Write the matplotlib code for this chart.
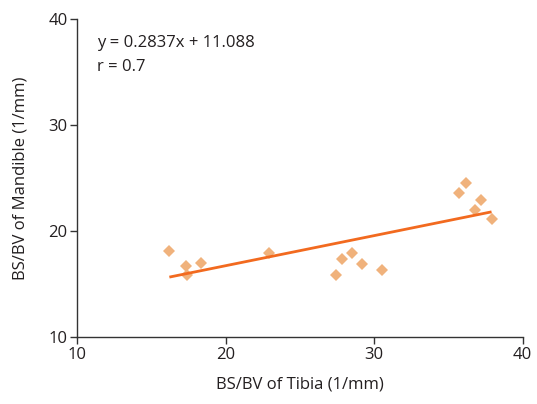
import matplotlib
matplotlib.use("Agg")
import matplotlib.pyplot as plt
import numpy as np

plt.rcParams['font.family'] = ['Open Sans', 'DejaVu Sans']

tibia = [16.2, 17.3, 17.4, 18.3, 22.9, 27.4, 27.8, 28.5, 29.2, 30.5,
         36.2, 35.7, 37.2, 36.8, 37.9]
mandible = [18.1, 16.7, 15.9, 17.0, 18.0, 15.9, 17.4, 18.0, 16.9, 16.4,
            24.6, 23.6, 23.0, 22.0, 21.2]
slope = 0.2837
intercept = 11.088
r_value = 0.7
xticks = [10, 20, 30, 40]
yticks = [10, 20, 30, 40]

fig = plt.figure(figsize=(5.37, 4.04), dpi=100)
ax = fig.add_axes([0.144, 0.165, 0.8294, 0.787])

ax.plot(tibia, mandible, linestyle='none', marker='D', ms=6.3,
        color='#f0b27c', markeredgewidth=0, zorder=2)
xl = np.array([min(tibia), max(tibia)])
ax.plot(xl, slope * xl + intercept, color='#f26a1f', lw=2, zorder=3,
        solid_capstyle='butt')

ax.set_xlim(10, 40)
ax.set_ylim(10, 40)
ax.set_xticks(xticks)
ax.set_yticks(yticks)
ax.tick_params(direction='out', length=5, width=1, labelsize=12, color='#333333',
               labelcolor='#231f20', pad=2)
for s in ['top', 'right']:
    ax.spines[s].set_visible(False)
for s in ['left', 'bottom']:
    ax.spines[s].set_color('#333333')
    ax.spines[s].set_linewidth(1)

ax.set_xlabel('BS/BV of Tibia (1/mm)', fontsize=12, color='#231f20', labelpad=10)
ax.set_ylabel('BS/BV of Mandible (1/mm)', fontsize=12, color='#231f20', labelpad=14)

ax.text(0.045, 0.925, f'y = {slope}x + {intercept:.3f}', transform=ax.transAxes,
        fontsize=12, color='#231f20', va='center', ha='left')
ax.text(0.045, 0.85, f'r = {r_value}', transform=ax.transAxes,
        fontsize=12, color='#231f20', va='center', ha='left')

fig.savefig('out.png', dpi=100)
